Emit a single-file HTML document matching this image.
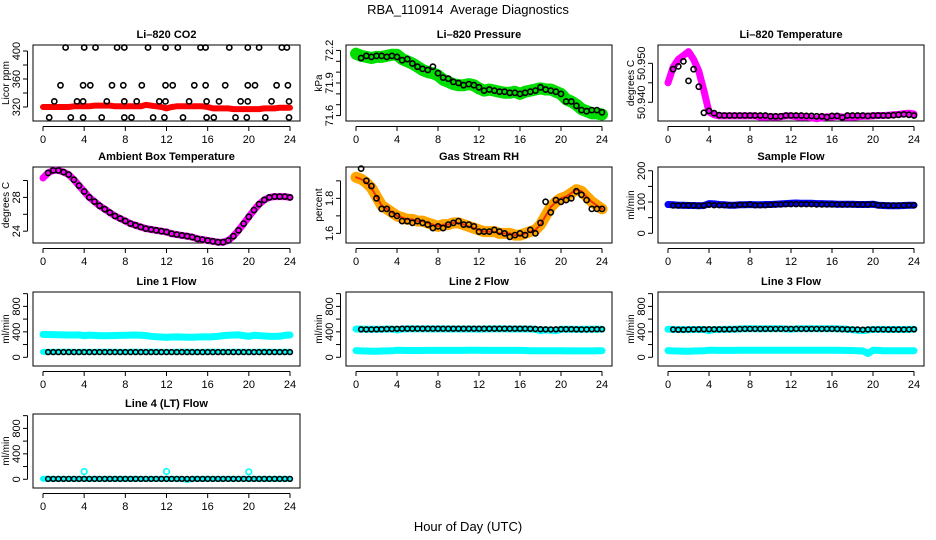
<!DOCTYPE html>
<html><head><meta charset="utf-8"><style>
body{margin:0;background:#fff;width:936px;height:540px;overflow:hidden}
svg{display:block}
text{font-family:"Liberation Sans",sans-serif;fill:#000}
</style></head><body>
<svg id="c" width="936" height="540">
<text x="468" y="14" font-size="13" text-anchor="middle">RBA_110914&#160; Average Diagnostics</text>
<text x="468" y="531" font-size="13" text-anchor="middle">Hour of Day (UTC)</text>
</svg>
<script>
const xTicks=[0,4,8,12,16,20,24];
const halfHours=[0,0.5,1,1.5,2,2.5,3,3.5,4,4.5,5,5.5,6,6.5,7,7.5,8,8.5,9,9.5,10,10.5,11,11.5,12,12.5,13,13.5,14,14.5,15,15.5,16,16.5,17,17.5,18,18.5,19,19.5,20,20.5,21,21.5,22,22.5,23,23.5,24];
// CO2
const co2Red=[320,320,320,320,320,320,321,321,321,321,322,322,322,322,321,321,321,321,321,321,323,322,321,320,318,320,321,321,321,321,321,321,320,318,318,318,318,317,317,317,317,317,317,318,318,318,319,319,319];
const co2BlackT=[2.2,4.0,5.1,7.2,7.9,10.2,11.9,13.1,15.3,15.8,18.1,19.9,21.0,23.2,23.7,1.7,3.9,4.6,6.7,7.8,9.6,11.9,12.6,14.7,15.8,17.7,19.9,20.6,22.7,23.8,1.1,3.3,3.9,6.2,7.9,9.1,11.3,11.9,14.2,15.9,17.1,19.2,19.9,22.2,23.9,0.6,2.7,3.9,5.7,7.9,8.6,10.7,11.8,13.6,15.9,16.6,18.7,19.8,21.6,23.9];
const co2BlackV=[405,405,405,405,405,405,405,405,405,405,405,405,405,405,405,351,351,351,351,351,351,351,351,351,351,351,351,351,351,351,328,328,328,328,328,328,328,328,328,328,328,328,328,328,328,305,305,305,305,305,305,305,305,305,305,305,305,305,305,305];
// Pressure
const presGreen=[72.17,72.15,72.14,72.13,72.14,72.14,72.15,72.16,72.16,72.12,72.10,72.08,72.05,72.02,72.00,71.99,71.97,71.93,71.91,71.89,71.88,71.88,71.89,71.88,71.85,71.83,71.84,71.83,71.82,71.81,71.81,71.82,71.80,71.82,71.83,71.84,71.85,71.84,71.84,71.82,71.80,71.75,71.73,71.70,71.66,71.64,71.62,71.62,71.61];
const presBlack=[72.14,72.13,72.15,72.14,72.15,72.15,72.14,72.15,72.14,72.11,72.12,72.08,72.05,72.03,72.02,72.05,71.99,71.95,71.94,71.91,71.90,71.88,71.89,71.88,71.86,71.83,71.84,71.83,71.82,71.82,71.81,71.81,71.80,71.81,71.82,71.83,71.86,71.84,71.83,71.82,71.80,71.73,71.73,71.69,71.65,71.64,71.65,71.65,71.63];
// Li-820 temperature
const tempMag=[50.945,50.949,50.951,50.952,50.953,50.951,50.948,50.943,50.9375,50.9368,50.9365,50.9365,50.9365,50.9365,50.9365,50.9365,50.9365,50.9365,50.9362,50.9362,50.9363,50.9362,50.9363,50.9365,50.9365,50.9363,50.9362,50.9363,50.9360,50.9358,50.9360,50.9363,50.9362,50.9364,50.9362,50.9362,50.9362,50.9363,50.9364,50.9364,50.9365,50.9366,50.9366,50.9367,50.9368,50.9369,50.9371,50.9372,50.9370];
const tempBlack=[50.9445,50.9485,50.9492,50.9505,50.9455,50.9485,50.9440,50.9373,50.9378,50.9372,50.9367,50.9366,50.9366,50.9366,50.9366,50.9366,50.9366,50.9366,50.9366,50.9366,50.9364,50.9364,50.9364,50.9366,50.9366,50.9366,50.9366,50.9365,50.9365,50.9364,50.9364,50.9362,50.9365,50.9365,50.9361,50.9366,50.9366,50.9366,50.9366,50.9365,50.9366,50.9366,50.9366,50.9366,50.9367,50.9368,50.9369,50.9368,50.9366];
// Ambient box temperature
const ambMag=[30.3,30.9,31.2,31.2,31.0,30.7,30.1,29.4,28.7,28.0,27.5,27.0,26.6,26.2,25.8,25.5,25.2,24.9,24.7,24.5,24.3,24.2,24.1,24.0,23.9,23.7,23.6,23.5,23.4,23.3,23.1,23.0,22.9,22.8,22.7,22.7,22.9,23.4,24.1,24.9,25.7,26.5,27.2,27.7,28.0,28.1,28.1,28.1,28.0];
const ambBlack=[30.3,30.9,31.2,31.2,31.0,30.7,30.1,29.4,28.7,28.0,27.5,27.0,26.6,26.2,25.8,25.5,25.2,24.9,24.7,24.5,24.3,24.2,24.1,24.0,23.9,23.7,23.6,23.5,23.4,23.3,23.1,23.0,22.9,22.8,22.7,22.7,22.9,23.4,24.1,24.9,25.7,26.5,27.2,27.7,28.0,28.1,28.1,28.1,28.0];
// Gas stream RH
const rhOrange=[1.92,1.91,1.89,1.86,1.81,1.76,1.74,1.72,1.70,1.69,1.68,1.68,1.67,1.67,1.66,1.65,1.64,1.65,1.65,1.66,1.66,1.65,1.64,1.63,1.62,1.61,1.61,1.61,1.60,1.60,1.60,1.59,1.59,1.60,1.61,1.62,1.65,1.70,1.75,1.78,1.80,1.81,1.83,1.85,1.84,1.81,1.78,1.76,1.74];
const rhBlack=[1.92,1.97,1.90,1.87,1.80,1.74,1.74,1.71,1.70,1.67,1.67,1.66,1.67,1.66,1.65,1.63,1.64,1.63,1.65,1.66,1.67,1.65,1.65,1.64,1.61,1.61,1.61,1.62,1.61,1.60,1.58,1.59,1.60,1.59,1.62,1.60,1.66,1.78,1.72,1.79,1.78,1.79,1.80,1.84,1.82,1.79,1.74,1.74,1.74];
// Sample flow
const sfBlue=[92,91,90,90,89,89,88,89,95,94,92,91,90,90,91,91,92,91,91,92,92,93,94,95,96,97,96,96,96,95,95,94,94,93,93,93,93,92,92,92,93,90,89,88,88,88,89,90,90];
const sfBlack=[90,89,89,89,90,89,88,89,91,90,90,90,90,90,91,91,92,90,90,90,91,92,92,93,93,93,93,93,93,92,92,92,92,92,92,92,92,92,92,92,93,90,90,89,89,89,90,90,90];
// Line 1 flow
const l1Upper=[360,358,356,355,352,350,350,352,340,348,344,340,338,340,342,344,345,348,350,346,340,330,322,318,312,318,320,318,316,316,318,320,320,322,330,340,345,350,352,340,330,345,340,335,330,328,330,345,350];
const l1Lower=[85,85,85,86,86,86,85,85,86,85,85,86,86,86,86,85,85,86,86,85,86,86,86,85,85,85,86,86,86,85,85,85,86,86,86,85,85,86,86,86,85,85,86,86,86,85,85,86,86];
const l1Black=[82,82,82,82,82,82,82,82,82,82,82,82,82,82,82,82,82,82,82,82,82,82,82,82,82,82,82,82,82,82,82,82,82,82,82,82,82,82,82,82,82,82,82,82,82,82,82,82,82];
// Line 2 flow
const l2Upper=[445,443,442,440,440,442,443,444,430,445,446,446,446,446,446,445,446,446,445,445,445,445,445,445,440,445,446,446,446,446,445,445,445,445,445,440,420,430,425,420,440,440,440,438,438,440,440,442,442];
const l2Lower=[105,100,98,96,96,98,100,102,110,108,106,106,106,106,108,108,108,108,108,108,108,108,110,110,110,108,108,108,108,108,108,108,108,106,104,104,104,104,104,104,104,100,100,100,100,100,100,102,102];
const l2Black=[445,440,438,438,440,442,445,445,448,450,450,450,450,450,450,450,450,450,450,450,450,450,450,450,450,450,450,450,450,450,450,450,450,450,448,445,442,440,438,440,442,442,442,440,438,438,440,442,442];
// Line 3 flow
const l3Upper=[440,438,436,435,435,436,437,438,420,436,437,438,440,442,445,448,450,448,446,448,450,450,448,446,440,448,448,448,448,448,448,448,448,446,444,440,432,426,420,430,436,438,438,436,436,436,436,438,440];
const l3Lower=[105,100,98,96,96,98,100,102,112,110,108,108,108,108,110,110,112,112,112,112,112,112,112,112,112,112,112,112,112,112,112,112,112,110,108,106,106,104,100,60,110,108,104,104,104,104,104,104,104];
const l3Black=[440,436,434,434,436,438,440,440,442,440,440,440,440,442,444,446,446,446,446,446,446,446,446,446,446,446,446,446,446,446,446,446,446,444,442,440,438,436,434,436,438,438,438,436,436,436,436,438,440];
// Line 4 flow
const l4Cyan=[8,6,6,6,6,6,6,6,6,6,6,6,6,6,6,6,6,6,6,6,6,6,6,6,6,6,6,6,-10,6,6,6,6,6,6,6,6,6,6,6,6,6,6,6,6,6,6,6,6];
const l4Black=[6,6,6,6,6,6,6,6,6,6,6,6,6,6,6,6,6,6,6,6,6,6,6,6,6,6,6,6,6,6,6,6,6,6,6,6,6,6,6,6,6,6,6,6,6,6,6,6,6];
const l4SpikeT=[4,12,20];
const l4SpikeV=[120,122,118];

const NS="http://www.w3.org/2000/svg";
const svg=document.getElementById('c');
function el(tag,attrs,parent){const e=document.createElementNS(NS,tag);for(const k in attrs)e.setAttribute(k,attrs[k]);(parent||svg).appendChild(e);return e;}
function panel(name,title,L,R,T,B,ymin,ymax,yticks,ylabels,yunit){
  const g=el('g',{});
  
  
  const xs=t=>L+10+(t/24)*(R-L-20);
  const ys=v=>B-(v-ymin)/(ymax-ymin)*(B-T);
  const box=el('rect',{x:L,y:T,width:R-L,height:B-T,fill:'none',stroke:'#000','stroke-width':1},g);
  
  
  const tt=el('text',{x:(L+R)/2,y:T-7,'font-size':11,'font-weight':'bold','text-anchor':'middle'},g);
  tt.textContent=title;
  
  
  el('line',{x1:xs(0),x2:xs(24),y1:B+5.5,y2:B+5.5,stroke:'#000'},g);
  xTicks.forEach(t=>{
    el('line',{x1:xs(t),x2:xs(t),y1:B+5.5,y2:B+10,stroke:'#000'},g);
    const tx=el('text',{x:xs(t),y:B+22,'font-size':11,'text-anchor':'middle'},g);
    tx.textContent=t;
    
    
  });
  el('line',{x1:L-5.5,x2:L-5.5,y1:ys(yticks[0]),y2:ys(yticks[yticks.length-1]),stroke:'#000'},g);
  yticks.forEach(v=>{el('line',{x1:L-10,x2:L-5.5,y1:ys(v),y2:ys(v),stroke:'#000'},g);});
  ylabels.forEach(v=>{
    const y=ys(v);
    const tx=el('text',{x:L-13,y:y,'font-size':11,'text-anchor':'middle',transform:`rotate(-90 ${L-13} ${y})`},g);
    tx.textContent=String(v);
    
    
  });
  const yl=el('text',{x:0,y:0,'font-size':10,'text-anchor':'middle',transform:`translate(${L-24} ${(T+B)/2}) rotate(-90)`},g);
  yl.textContent=yunit;
  
  
  return {g,xs,ys,L,R,T,B};
}
function band(p,ts,vs,color,w,nm){
  const pts=ts.map((t,i)=>p.xs(t).toFixed(1)+','+p.ys(vs[i]).toFixed(1)).join(' ');
  const pl=el('polyline',{points:pts,fill:'none',stroke:color,'stroke-width':w,'stroke-linecap':'round','stroke-linejoin':'round'},p.g);
  
  
}
function dots(p,ts,vs,color,nm,r,skipFirst){
  ts.forEach((t,i)=>{
    if(skipFirst&&i===0)return;
    const c=el('circle',{cx:p.xs(t).toFixed(1),cy:p.ys(vs[i]).toFixed(1),r:r||2.6,fill:'none',stroke:color,'stroke-width':1.6},p.g);
    
    
  });
}
const C1=[33,300],C2=[346,612],C3=[658,924];
const R1=[45,121],R2=[167,243],R3=[292,366],R4=[414,488];
const fTicks=[0,200,400,600,800,1000],fLab=[0,400,800];

let p=panel('co2-panel','Li–820 CO2',C1[0],C1[1],R1[0],R1[1],300,408.6,[320,340,360,380,400],[320,360,400],'Licor ppm');
band(p,halfHours,co2Red,'#ff0000',6,'co2-series');
dots(p,co2BlackT,co2BlackV,'#000','co2-average-point');

p=panel('pressure-panel','Li–820 Pressure',C2[0],C2[1],R1[0],R1[1],71.55,72.25,[71.6,71.7,71.8,71.9,72.0,72.1,72.2],['71.6','71.9','72.2'],'kPa');
band(p,halfHours,presGreen,'#00dd00',12,'pressure-series');
dots(p,halfHours,presBlack,'#000','pressure-average-point',2.6,true);

p=panel('li820-temp-panel','Li–820 Temperature',C3[0],C3[1],R1[0],R1[1],50.9352,50.9547,[50.940,50.945,50.950],['50.940','50.950'],'degrees C');
band(p,halfHours,tempMag,'#ff00ff',7,'li820-temp-series');
dots(p,halfHours,tempBlack,'#000','li820-temp-average-point',2.6,true);

p=panel('ambient-temp-panel','Ambient Box Temperature',C1[0],C1[1],R2[0],R2[1],22.6,31.6,[24,26,28,30],[24,28],'degrees C');
band(p,halfHours,ambMag,'#ff00ff',7,'ambient-temp-series');
dots(p,halfHours,ambBlack,'#000','ambient-temp-average-point',2.6,true);

p=panel('rh-panel','Gas Stream RH',C2[0],C2[1],R2[0],R2[1],1.545,1.979,[1.6,1.7,1.8,1.9],['1.6','1.8'],'percent');
band(p,halfHours,rhOrange,'#ffa500',11,'rh-series');
band(p,halfHours,rhOrange,'#ee3300',2,'rh-series-core');
dots(p,halfHours,rhBlack,'#000','rh-average-point',2.6,true);

p=panel('sample-flow-panel','Sample Flow',C3[0],C3[1],R2[0],R2[1],-31,212,[0,50,100,150,200],[0,100,200],'ml/min');
band(p,halfHours,sfBlue,'#0000ff',7,'sample-flow-series');
dots(p,halfHours,sfBlack,'#000','sample-flow-average-point',2.4,true);

p=panel('line1-flow-panel','Line 1 Flow',C1[0],C1[1],R3[0],R3[1],-137,1026,fTicks,fLab,'ml/min');
band(p,halfHours,l1Upper,'#00ffff',7,'line1-upper-series');
band(p,halfHours,l1Lower,'#00ffff',6,'line1-lower-series');
dots(p,halfHours,l1Black,'#000','line1-average-point',2.4,true);

p=panel('line2-flow-panel','Line 2 Flow',C2[0],C2[1],R3[0],R3[1],-137,1026,fTicks,fLab,'ml/min');
band(p,halfHours,l2Upper,'#00ffff',7,'line2-upper-series');
band(p,halfHours,l2Lower,'#00ffff',7,'line2-lower-series');
dots(p,halfHours,l2Black,'#000','line2-average-point',2.4,true);

p=panel('line3-flow-panel','Line 3 Flow',C3[0],C3[1],R3[0],R3[1],-137,1026,fTicks,fLab,'ml/min');
band(p,halfHours,l3Upper,'#00ffff',7,'line3-upper-series');
band(p,halfHours,l3Lower,'#00ffff',7,'line3-lower-series');
dots(p,halfHours,l3Black,'#000','line3-average-point',2.4,true);

p=panel('line4-flow-panel','Line 4 (LT) Flow',C1[0],C1[1],R4[0],R4[1],-137,1026,fTicks,fLab,'ml/min');
band(p,halfHours,l4Cyan,'#00ffff',6,'line4-series');
dots(p,l4SpikeT,l4SpikeV,'#00ffff','line4-spike-point',2.8);
dots(p,halfHours,l4Black,'#000','line4-average-point',2.4,true);
</script>
</body></html>
